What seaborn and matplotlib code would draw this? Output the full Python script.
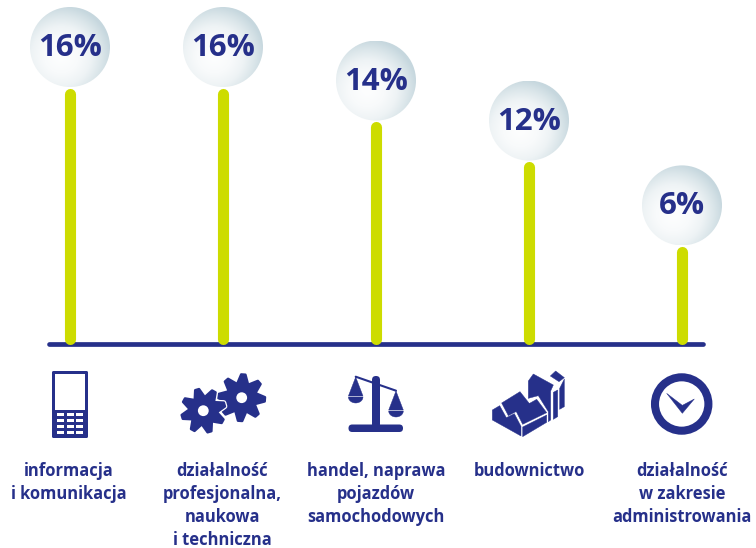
import numpy as np
import pandas as pd
import matplotlib
matplotlib.use("Agg")
import matplotlib.pyplot as plt
import seaborn as sns
from matplotlib.colors import LinearSegmentedColormap
from matplotlib.patches import Circle, Polygon, Rectangle, FancyBboxPatch

# dane
kategorie = ["informacja\ni komunikacja", "działalność\nprofesjonalna,\nnaukowa\ni techniczna",
             "handel, naprawa\npojazdów\nsamochodowych", "budownictwo",
             "działalność\nw zakresie\nadministrowania"]
etykiety = ["16%", "16%", "14%", "12%", "6%"]
wysokosci = [16, 16, 13.9, 11.4, 6.1]  # slupki na rysunku nie sa idealnie proporcjonalne

GRANAT = "#26308a"
ZIELONY = "#cddc00"

sns.set_theme(style="white")
plt.rcParams["font.family"] = ["Open Sans", "DejaVu Sans"]

fig = plt.figure(figsize=(7.56, 5.48), dpi=100)
ax = fig.add_axes([0, 0, 1, 1])

# os pozioma
ax.plot([-21 / 153, 633 / 153], [0, 0], color=GRANAT, lw=3.4, solid_capstyle="round", zorder=1)

# slupki - zaokraglone konce, wiec linia krotsza o promien
cap = 5.5 / 16
df = pd.DataFrame({
    "x": np.repeat(np.arange(5), 2),
    "y": np.ravel([[cap, h - cap] for h in wysokosci]),
    "k": np.repeat(np.arange(5), 2),
})
sns.lineplot(data=df, x="x", y="y", units="k", estimator=None, color=ZIELONY, lw=8,
             solid_capstyle="round", legend=False, ax=ax, zorder=2)
ax.set_xlim(-70 / 153, 686 / 153)
ax.set_ylim(-204 / 16, 344 / 16)
ax.axis("off")

# druga os w pikselach na kule i ikony
px = fig.add_axes([0, 0, 1, 1], facecolor="none")
px.axis("off")

kula = LinearSegmentedColormap.from_list("kula", ["#fdfefe", "#f8fafb", "#eef3f5", "#dbe6ea", "#c6d7de"])
gy, gx = np.mgrid[-1:1:160j, -1:1:160j]
grad = np.clip(np.hypot(gx + 0.22, gy - 0.22) / 1.27, 0, 1) ** 1.3

for i, (h, et) in enumerate(zip(wysokosci, etykiety)):
    cx = 70 + 153 * i
    cy = 344 - h * 16 - 41
    im = px.imshow(grad, extent=[cx - 40, cx + 40, cy + 40, cy - 40], cmap=kula,
                   vmin=0, vmax=1, aspect="auto", zorder=3)
    im.set_clip_path(Circle((cx, cy), 40, transform=px.transData))
    px.text(cx, cy + 1, et, ha="center", va="center", fontsize=22.5, fontweight="bold",
            color=GRANAT, zorder=4)

for i, k in enumerate(kategorie):
    px.text(70 + 153 * i - (1 if i < 2 else 0), 462, k, ha="center", va="top", fontsize=11.9,
            fontweight="bold", color=GRANAT, linespacing=1.36)


def z3(pts, ox, oy):
    return [(ox + a / 3, oy + b / 3) for a, b in pts]


def wielokat(pts, kolor=GRANAT):
    px.add_patch(Polygon(pts, closed=True, fc=kolor, ec=kolor, lw=0.3, joinstyle="round", zorder=3))


# telefon
px.add_patch(FancyBboxPatch((52, 371), 36, 67, boxstyle="round,pad=0,rounding_size=1.5", fc=GRANAT, ec="none"))
px.add_patch(Rectangle((55, 374), 30, 36, fc="white", ec="none", zorder=3))
for ky in [412.5, 419, 425, 431]:
    for kx in [57.3, 66.8, 76]:
        px.add_patch(Rectangle((kx, ky), 7, 3.4, fc="white", ec="none", zorder=3))


# zebatki
def zebatka(cx, cy, r, obrot):
    pk = []
    for n in range(8):
        a = obrot + n * np.pi / 4
        for da, rr in [(-np.pi / 8, 0.6), (-0.09, 0.97), (0.09, 0.97)]:
            pk.append((cx + r * rr * np.cos(a + da), cy + r * rr * np.sin(a + da)))
    px.add_patch(Polygon(pk, closed=True, fc="white", ec="white", lw=3.6, joinstyle="round", zorder=3))
    px.add_patch(Polygon(pk, closed=True, fc=GRANAT, ec=GRANAT, lw=1.8, joinstyle="round", zorder=3))
    px.add_patch(Circle((cx, cy), 5.4, fc="white", ec="none", zorder=4))


zebatka(241.7, 397.7, 24, 0.07)
zebatka(203.3, 410.7, 22.7, 0.5)

# waga
px.add_patch(FancyBboxPatch((348.5, 424.5), 54.5, 7.5, boxstyle="round,pad=0,rounding_size=3.7", fc=GRANAT, ec="none"))
px.add_patch(FancyBboxPatch((372, 376), 8, 52, boxstyle="round,pad=0,rounding_size=3.9", fc=GRANAT, ec="none"))
px.plot([355.7, 396], [376.7, 390.7], color=GRANAT, lw=1.5)
for ax_, ay_ in [(355.7, 377), (396, 391)]:
    wielokat([(ax_, ay_), (ax_ + 7.3, ay_ + 19), (ax_ - 7.3, ay_ + 19)])
    th = np.linspace(0, np.pi, 30)
    wielokat(list(zip(ax_ + 7.3 * np.cos(th), ay_ + 20 + 6 * np.sin(th))))

# budynki
bud = [
    [(50, 114), (105, 80), (135, 118), (70, 152)],
    [(22, 135), (44, 122), (64, 158), (88, 146), (108, 184), (108, 213), (22, 165)],
    [(93, 138), (155, 103), (185, 143), (113, 178)],
    [(113, 186), (185, 150), (185, 172), (113, 215)],
    [(130, 48), (145, 27), (205, 60), (197, 78), (197, 165), (190, 170), (190, 140), (160, 92), (130, 100)],
    [(205, 82), (218, 75), (218, 155), (205, 163)],
    [(224, 70), (238, 42), (238, 125), (224, 133)],
    [(196, 33), (212, 18), (238, 38), (222, 50)],
]
for b in bud:
    wielokat(z3(b, 485, 365))

# zegar
px.add_patch(Circle((681.7, 404), 26.7, fc="none", ec=GRANAT, lw=5.8, zorder=3))
wielokat(z3([(200, 190), (247, 226), (283, 207), (247, 250)], 600, 330))

px.set_xlim(0, 756)
px.set_ylim(548, 0)

fig.savefig("out.png", dpi=100, facecolor="white")
